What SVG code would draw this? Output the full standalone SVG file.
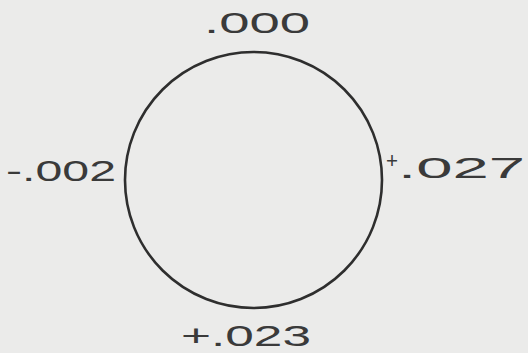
<svg xmlns="http://www.w3.org/2000/svg" width="528" height="353" viewBox="0 0 528 353">
<style>
.bg{fill:#ebebea}
.ring{fill:none;stroke:#2e2e2e;stroke-width:2.6}
.lbl{font-family:"Liberation Sans",Arial,sans-serif;font-size:30px;fill:#3a3a3a}
.sm{font-size:22px}
</style>
<rect class="bg" x="0" y="0" width="528" height="353"/>
<g id="circle">
<ellipse class="ring" cx="253.5" cy="180" rx="128.5" ry="128"/>
</g>
<g id="label-top">
<text class="lbl" x="204" y="33" textLength="106" lengthAdjust="spacingAndGlyphs">.000</text>
</g>
<g id="label-left">
<text class="lbl" x="6" y="181" textLength="110" lengthAdjust="spacingAndGlyphs">-.002</text>
</g>
<g id="label-right">
<text class="lbl" x="386" y="178"><tspan class="sm" dy="-10" textLength="12" lengthAdjust="spacingAndGlyphs">+</tspan><tspan dy="10" textLength="127" lengthAdjust="spacingAndGlyphs">.027</tspan></text>
</g>
<g id="label-bottom">
<text class="lbl" x="181" y="346" textLength="130" lengthAdjust="spacingAndGlyphs">+.023</text>
</g>
<g id="connectors"></g>
</svg>
